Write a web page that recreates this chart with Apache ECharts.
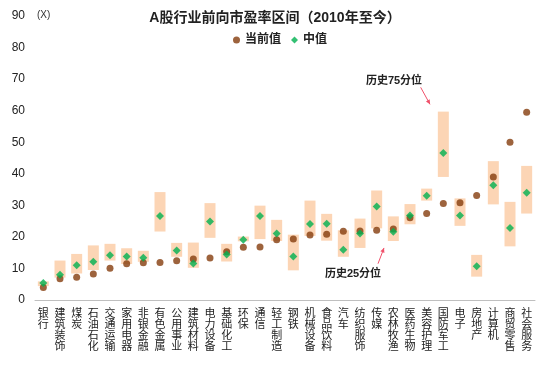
<!DOCTYPE html>
<html>
<head>
<meta charset="utf-8">
<script src="https://cdn.jsdelivr.net/npm/echarts@6/dist/echarts.min.js"></script>
<style>html,body{margin:0;padding:0;background:#fff}#c{width:550px;height:368px}</style>
</head>
<body>
<div id="c"></div>
<script>
const categories = ['银行','建筑装饰','煤炭','石油石化','交通运输','家用电器','非银金融','有色金属','公用事业','建筑材料','电力设备','基础化工','环保','通信','轻工制造','钢铁','机械设备','食品饮料','汽车','纺织服饰','传媒','农林牧渔','医药生物','美容护理','国防军工','电子','房地产','计算机','商贸零售','社会服务'];
const p25 = [4.4, 7.1, 8.4, 9.5, 12.5, 11.4, 12.1, 21.7, 13.7, 10.2, 19.7, 12.2, 18.6, 19.3, 18.7, 9.4, 20.3, 18.8, 13.7, 16.5, 22.7, 18.7, 24.0, 31.5, 39.0, 23.5, 7.4, 30.3, 17.0, 27.4];
const p75 = [5.9, 12.5, 14.6, 17.3, 17.8, 16.4, 15.6, 34.2, 18.1, 18.2, 30.7, 17.8, 20.1, 29.9, 25.4, 20.7, 31.5, 27.3, 22.1, 25.8, 34.7, 26.5, 30.4, 35.3, 59.7, 32.2, 14.3, 44.0, 31.1, 42.5];
const median = [5.4, 8.0, 11.0, 12.1, 14.2, 13.8, 13.4, 26.6, 15.7, 11.6, 24.9, 14.4, 19.1, 26.6, 21.1, 13.8, 24.1, 24.2, 15.9, 21.1, 29.6, 21.6, 26.8, 33.0, 46.6, 26.8, 10.7, 36.4, 22.8, 34.0];
const current = [4.0, 6.7, 7.2, 8.2, 10.1, 11.5, 11.8, 11.9, 12.4, 13.0, 13.3, 15.3, 16.7, 16.8, 19.1, 19.3, 20.6, 20.8, 21.8, 21.9, 22.1, 22.5, 26.1, 27.4, 30.6, 30.8, 33.1, 39.0, 50.0, 59.5];
const yTicks = [0, 90, 10];

const FONT = '"Liberation Sans", "Noto Sans CJK SC", sans-serif';
const chart = echarts.init(document.getElementById('c'));
const range = p75.map((v, i) => +(v - p25[i]).toFixed(2));

chart.setOption({
  animation: false,
  textStyle: { fontFamily: FONT },
  title: {
    text: 'A股行业前向市盈率区间（2010年至今）',
    left: 'center', top: 6,
    textStyle: { fontSize: 14, fontWeight: 'bold', color: '#222', fontFamily: FONT }
  },
  legend: {
    data: [{ name: '当前值', icon: 'circle' }, { name: '中值', icon: 'diamond' }],
    left: 228, top: 29, itemWidth: 7, itemHeight: 7, itemGap: 10,
    textStyle: { fontSize: 12, color: '#222', fontWeight: 'bold', fontFamily: FONT }
  },
  grid: { left: 35, right: 15, top: 16, bottom: 68 },
  xAxis: {
    type: 'category', data: categories,
    axisLine: { lineStyle: { color: '#bfbfbf' } },
    axisTick: { length: 4, lineStyle: { color: '#bfbfbf' } },
    axisLabel: {
      interval: 0, margin: 8, fontSize: 11, color: '#222', lineHeight: 11,
      verticalAlign: 'top',
      formatter: v => v.split('').join('\n')
    }
  },
  yAxis: {
    type: 'value', min: yTicks[0], max: yTicks[1], interval: yTicks[2],
    splitLine: { show: false }, axisLine: { show: false }, axisTick: { show: false },
    axisLabel: { fontSize: 12, color: '#222', margin: 10 }
  },
  series: [
    { name: 'base', type: 'bar', stack: 'r', data: p25, barWidth: 11,
      itemStyle: { color: 'transparent' }, silent: true },
    { name: '区间', type: 'bar', stack: 'r', data: range, barWidth: 11,
      itemStyle: { color: '#FCD5B5' } },
    { name: '当前值', type: 'scatter', data: current, symbol: 'circle', symbolSize: 7,
      itemStyle: { color: '#843C0C' }, z: 3 },
    { name: '中值', type: 'scatter', data: median, symbol: 'diamond', symbolSize: 8,
      itemStyle: { color: '#00B050' }, z: 4 }
  ]
});

// annotations positioned from data coordinates
const px0 = chart.convertToPixel({ xAxisIndex: 0 }, 0);
const px1 = chart.convertToPixel({ xAxisIndex: 0 }, 1);
const step = px1 - px0;
const X = f => px0 + f * step;
const Y = v => chart.convertToPixel({ yAxisIndex: 0 }, v);
function arrow(x1, y1, x2, y2) {
  const ang = Math.atan2(y2 - y1, x2 - x1);
  const L = 5, W = 0.45;
  return [
    { type: 'line', shape: { x1, y1, x2, y2 }, style: { stroke: '#F0506A', lineWidth: 1 } },
    { type: 'polygon', shape: { points: [
      [x2, y2],
      [x2 - L * Math.cos(ang - W), y2 - L * Math.sin(ang - W)],
      [x2 - L * Math.cos(ang + W), y2 - L * Math.sin(ang + W)]
    ] }, style: { fill: '#F0506A' } }
  ];
}
chart.setOption({
  graphic: [
    { type: 'text', x: 37, y: 10, style: { text: '(X)', fontSize: 10, fill: '#333', fontFamily: FONT } },
    { type: 'text', x: X(21.04), y: Y(69.5), style: { text: '历史75分位', fontSize: 11, fill: '#222', fontWeight: 'bold', fontFamily: FONT, align: 'center', verticalAlign: 'middle' } },
    ...arrow(X(22.64), Y(67.4), X(23.2), Y(62.0)),
    { type: 'text', x: X(18.58), y: Y(8.1), style: { text: '历史25分位', fontSize: 11, fill: '#222', fontWeight: 'bold', fontFamily: FONT, align: 'center', verticalAlign: 'middle' } },
    ...arrow(X(20.08), Y(11.5), X(20.44), Y(16.5))
  ]
});
</script>
</body>
</html>
